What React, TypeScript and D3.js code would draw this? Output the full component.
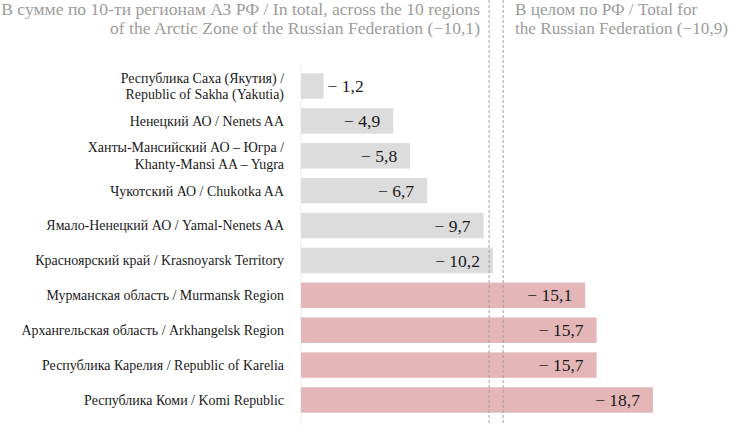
import * as d3 from 'd3';

// Regions (Russian / English), top to bottom
const regionsRu = [
  'Республика Саха (Якутия) /',
  'Ненецкий АО',
  'Ханты-Мансийский АО – Югра /',
  'Чукотский АО',
  'Ямало-Ненецкий АО',
  'Красноярский край',
  'Мурманская область',
  'Архангельская область',
  'Республика Карелия',
  'Республика Коми',
];
const regionsEn = [
  'Republic of Sakha (Yakutia)',
  'Nenets AA',
  'Khanty-Mansi AA – Yugra',
  'Chukotka AA',
  'Yamal-Nenets AA',
  'Krasnoyarsk Territory',
  'Murmansk Region',
  'Arkhangelsk Region',
  'Republic of Karelia',
  'Komi Republic',
];
// decline, % (shown as negative)
const values = [1.2, 4.9, 5.8, 6.7, 9.7, 10.2, 15.1, 15.7, 15.7, 18.7];
// true = worse than the Russian average (highlighted)
const highlighted = [false, false, false, false, false, false, true, true, true, true];
// two-line labels
const twoLine = [true, false, true, false, false, false, false, false, false, false];

const arcticTotal = 10.1;
const russiaTotal = 10.9;

const W = 731;
const H = 425;
const FONT = '"Liberation Serif", "Times New Roman", serif';

const fmt = (v: number) => '− ' + v.toFixed(1).replace('.', ',');

export default function App() {
  const x = d3.scaleLinear().domain([0, 18.7]).range([301, 653]);
  const y = d3
    .scaleBand<number>()
    .domain(d3.range(values.length))
    .range([73.3, 412.7])
    .paddingInner(0.27)
    .paddingOuter(0);
  const bw = y.bandwidth();

  return (
    <svg
      width={W}
      height={H}
      style={{ position: 'absolute', left: 0, top: 0, background: '#fff' }}
      fontFamily={FONT}
    >
      {/* header notes */}
      <g fill="#9c9c9c" fontSize={17.6}>
        <text x={480} y={14.5} textAnchor="end">
          В сумме по 10-ти регионам АЗ РФ / In total, across the 10 regions
        </text>
        <text x={480} y={34} textAnchor="end">
          {`of the Arctic Zone of the Russian Federation (−${arcticTotal.toFixed(1).replace('.', ',')})`}
        </text>
      </g>
      <g fill="#9c9c9c" fontSize={17.2}>
        <text x={515} y={14.5}>В целом по РФ / Total for</text>
        <text x={515} y={34}>
          {`the Russian Federation (−${russiaTotal.toFixed(1).replace('.', ',')})`}
        </text>
      </g>

      {/* axis line */}
      <line x1={x(0)} x2={x(0)} y1={64} y2={H} stroke="#ebebeb" strokeWidth={1} />

      {/* bars */}
      {values.map((v, i) => (
        <rect
          key={'b' + i}
          x={x(0)}
          y={y(i)}
          width={x(v) - x(0)}
          height={bw}
          fill={highlighted[i] ? '#e4b6b7' : '#dcdcdc'}
        />
      ))}

      {/* reference lines */}
      {[arcticTotal, russiaTotal].map((v, i) => (
        <line
          key={'r' + i}
          x1={x(v) - 2 - i}
          x2={x(v) - 2 - i}
          y1={0}
          y2={H}
          stroke="#a0a0a0"
          strokeWidth={1}
          strokeDasharray="3,2"
        />
      ))}

      {/* value labels */}
      {values.map((v, i) => {
        const inside = x(v) - x(0) > 60;
        return (
          <text
            key={'v' + i}
            x={inside ? x(v) - 13 : x(v) + 4}
            y={(y(i) ?? 0) + bw / 2}
            dy="0.35em"
            textAnchor={inside ? 'end' : 'start'}
            fontSize={17.5}
            fill="#1a1a1a"
          >
            {fmt(v)}
          </text>
        );
      })}

      {/* category labels */}
      {values.map((_, i) => {
        const cy = (y(i) ?? 0) + bw / 2;
        if (twoLine[i]) {
          return (
            <text key={'c' + i} x={284} textAnchor="end" fontSize={13.95} fill="#1a1a1a">
              <tspan x={284} y={cy - 8.3} dy="0.35em">
                {regionsRu[i]}
              </tspan>
              <tspan x={284} y={cy + 8.3} dy="0.35em">
                {regionsEn[i]}
              </tspan>
            </text>
          );
        }
        return (
          <text
            key={'c' + i}
            x={284}
            y={cy}
            dy="0.35em"
            textAnchor="end"
            fontSize={13.95}
            fill="#1a1a1a"
          >
            {`${regionsRu[i]} / ${regionsEn[i]}`}
          </text>
        );
      })}
    </svg>
  );
}
